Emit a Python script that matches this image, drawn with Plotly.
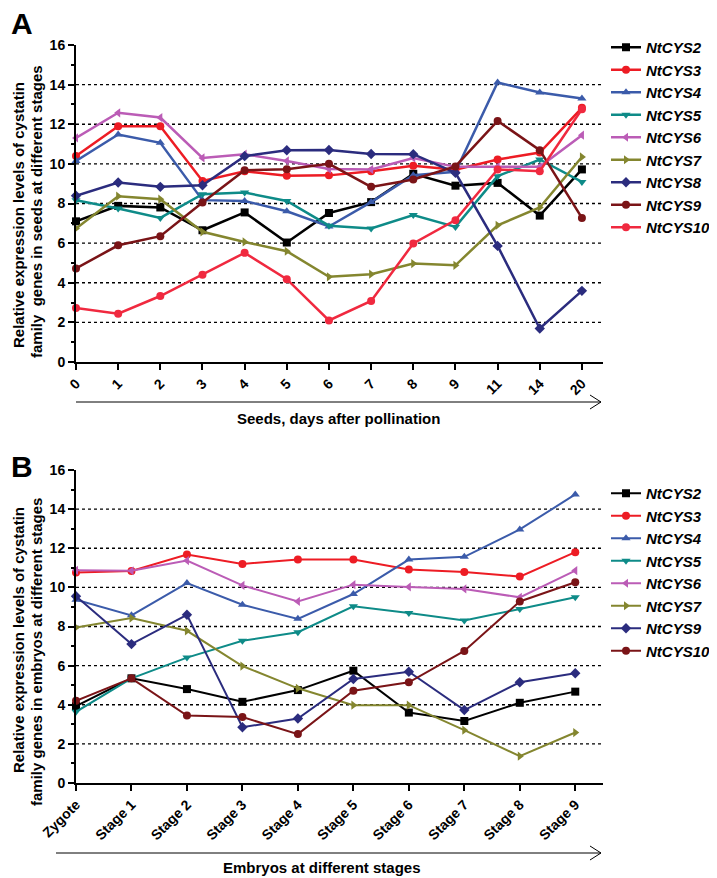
"""
Cystatin family expression in tobacco seeds (A) and embryos (B).
"""

import plotly.graph_objects as go

# the page body adds an 8px margin, so the figure is 8px smaller
OFF = 8
W, H = 717 - OFF, 878 - OFF

# Panel A: seeds, days after pollination
days = ["0", "1", "2", "3", "4", "5", "6", "7", "8", "9", "11", "14", "20"]
cys2_seed = [7.1, 7.88, 7.8, 6.65, 7.55, 6.03, 7.52, 8.07, 9.5, 8.9, 9.04, 7.39, 9.72]
cys3_seed = [10.4, 11.9, 11.9, 9.14, 9.63, 9.4, 9.42, 9.63, 9.9, 9.7, 10.22, 10.57, 12.83]
cys4_seed = [10.15, 11.48, 11.06, 8.17, 8.13, 7.61, 6.84, 8.07, 9.43, 9.6, 14.11, 13.6, 13.3]
cys5_seed = [8.17, 7.75, 7.27, 8.47, 8.55, 8.13, 6.88, 6.74, 7.42, 6.82, 9.38, 10.22, 9.09]
cys6_seed = [11.31, 12.58, 12.34, 10.3, 10.49, 10.15, 9.74, 9.72, 10.3, 9.85, 9.85, 9.85, 11.45]
cys7_seed = [6.74, 8.37, 8.22, 6.57, 6.06, 5.59, 4.3, 4.43, 4.97, 4.88, 6.9, 7.8, 10.35]
cys8_seed = [8.39, 9.06, 8.84, 8.92, 10.39, 10.69, 10.7, 10.5, 10.49, 9.55, 5.86, 1.69, 3.59]
cys9_seed = [4.72, 5.89, 6.35, 8.05, 9.68, 9.73, 10.0, 8.84, 9.21, 9.87, 12.17, 10.69, 7.27]
cys10_seed = [2.73, 2.44, 3.33, 4.41, 5.51, 4.18, 2.1, 3.08, 5.98, 7.16, 9.72, 9.63, 12.76]

# Panel B: embryos at different stages
stages = ["Zygote", "Stage 1", "Stage 2", "Stage 3", "Stage 4",
          "Stage 5", "Stage 6", "Stage 7", "Stage 8", "Stage 9"]
cys2_emb = [3.93, 5.35, 4.8, 4.15, 4.75, 5.74, 3.6, 3.17, 4.1, 4.67]
cys3_emb = [10.76, 10.84, 11.68, 11.2, 11.42, 11.42, 10.91, 10.79, 10.55, 11.8]
cys4_emb = [9.37, 8.57, 10.22, 9.11, 8.39, 9.66, 11.42, 11.56, 12.96, 14.75]
cys5_emb = [3.64, 5.35, 6.41, 7.27, 7.71, 9.03, 8.69, 8.31, 8.89, 9.49]
cys6_emb = [10.87, 10.85, 11.37, 10.1, 9.28, 10.14, 10.02, 9.92, 9.49, 10.86]
cys7_emb = [7.95, 8.43, 7.78, 5.98, 4.84, 3.98, 3.98, 2.7, 1.37, 2.58]
cys9_emb = [9.55, 7.1, 8.6, 2.85, 3.3, 5.32, 5.69, 3.73, 5.15, 5.61]
cys10_emb = [4.2, 5.35, 3.45, 3.37, 2.5, 4.72, 5.15, 6.75, 9.28, 10.26]

y_ticks = [0, 2, 4, 6, 8, 10, 12, 14, 16]
grid_vals = [2, 4, 6, 8, 10, 12, 14]

FONT = "Liberation Sans, Arial, sans-serif"

# name, values, colour, symbol
seed_series = [
    ("NtCYS2", cys2_seed, "#000000", "square"),
    ("NtCYS3", cys3_seed, "#ED1C24", "circle"),
    ("NtCYS4", cys4_seed, "#3B5BAA", "triangle-up"),
    ("NtCYS5", cys5_seed, "#0E8B88", "triangle-down"),
    ("NtCYS6", cys6_seed, "#BB5CB6", "triangle-left"),
    ("NtCYS7", cys7_seed, "#84862F", "triangle-right"),
    ("NtCYS8", cys8_seed, "#2B2C7E", "diamond"),
    ("NtCYS9", cys9_seed, "#7A1417", "circle"),
    ("NtCYS10", cys10_seed, "#F0293F", "circle"),
]
emb_series = [
    ("NtCYS2", cys2_emb, "#000000", "square"),
    ("NtCYS3", cys3_emb, "#ED1C24", "circle"),
    ("NtCYS4", cys4_emb, "#3B5BAA", "triangle-up"),
    ("NtCYS5", cys5_emb, "#0E8B88", "triangle-down"),
    ("NtCYS6", cys6_emb, "#BB5CB6", "triangle-left"),
    ("NtCYS7", cys7_emb, "#84862F", "triangle-right"),
    ("NtCYS9", cys9_emb, "#2B2C7E", "diamond"),
    ("NtCYS10", cys10_emb, "#7A1417", "circle"),
]


def px(x):
    # screen pixel -> paper fraction
    return (x - OFF) / W


def py(y):
    return 1 - (y - OFF) / H


fig = go.Figure()

for name, vals, col, sym in seed_series:
    fig.add_trace(go.Scatter(
        x=days, y=vals, name=name, mode="lines+markers",
        line=dict(color=col, width=2.5),
        marker=dict(color=col, symbol=sym, size=8),
        cliponaxis=False, xaxis="x", yaxis="y", legend="legend",
    ))

for name, vals, col, sym in emb_series:
    fig.add_trace(go.Scatter(
        x=stages, y=vals, name=name, mode="lines+markers",
        line=dict(color=col, width=2),
        marker=dict(color=col, symbol=sym, size=8),
        cliponaxis=False, xaxis="x2", yaxis="y2", legend="legend2",
    ))

axis_common = dict(
    showline=True, linecolor="black", linewidth=2,
    ticks="outside", ticklen=6, tickwidth=2, tickcolor="black",
    showgrid=False, zeroline=False, automargin=False,
)
tick_font = dict(size=14, family=FONT, weight="bold")
minor_ticks = dict(dtick=1, ticks="outside", ticklen=3,
                   tickwidth=2, tickcolor="black")
legend_font = dict(size=15, family=FONT, weight="bold", style="italic")

x_dom = [px(76), px(603)]
fig.update_layout(
    width=W, height=H,
    margin=dict(l=0, r=0, t=0, b=0),
    paper_bgcolor="white", plot_bgcolor="white",
    font=dict(family=FONT, color="black"),
    xaxis=dict(domain=x_dom, anchor="y", type="category",
               range=[0, 12.5], tickangle=-45, tickfont=tick_font,
               **axis_common),
    yaxis=dict(domain=[py(362), py(45)], anchor="x", range=[0, 16],
               tickvals=y_ticks, tickfont=tick_font, minor=minor_ticks,
               **axis_common),
    xaxis2=dict(domain=x_dom, anchor="y2", type="category",
                range=[0, 9.5], tickangle=-45, tickfont=tick_font,
                **axis_common),
    yaxis2=dict(domain=[py(783), py(470)], anchor="x2", range=[0, 16],
                tickvals=y_ticks, tickfont=tick_font, minor=minor_ticks,
                **axis_common),
    legend=dict(x=px(606), y=py(31), xanchor="left", yanchor="top",
                font=legend_font, bgcolor="rgba(0,0,0,0)",
                tracegroupgap=0, itemwidth=30),
    legend2=dict(x=px(606), y=py(477), xanchor="left", yanchor="top",
                 font=legend_font, bgcolor="rgba(0,0,0,0)",
                 tracegroupgap=0, itemwidth=30),
    showlegend=True,
)

# dotted horizontal gridlines (no line at 16)
shapes = []
for yr in ("y", "y2"):
    for g in grid_vals:
        shapes.append(dict(type="line", xref="paper", yref=yr,
                           x0=x_dom[0], x1=x_dom[1], y0=g, y1=g,
                           line=dict(color="black", width=1.3, dash="dot"),
                           layer="below"))

# arrows under the x tick labels
for x0, x1, y in ((76, 601, 402), (56, 601, 853)):
    shapes.append(dict(type="line", xref="paper", yref="paper",
                       x0=px(x0), x1=px(x1), y0=py(y), y1=py(y),
                       line=dict(color="black", width=1)))
    shapes.append(dict(type="path", xref="paper", yref="paper",
                       path="M %f %f L %f %f L %f %f" % (
                           px(x1 - 11), py(y - 7), px(x1), py(y),
                           px(x1 - 11), py(y + 7)),
                       line=dict(color="black", width=1)))
fig.update_layout(shapes=shapes)

annots = [
    dict(text="A", x=px(9), y=py(OFF - 3), xanchor="left", yanchor="top",
         font=dict(size=30, weight="bold")),
    dict(text="B", x=px(9), y=py(448), xanchor="left", yanchor="top",
         font=dict(size=30, weight="bold")),
    dict(text="Seeds, days after pollination", x=px(338), y=py(418),
         font=dict(size=15, weight="bold")),
    dict(text="Embryos at different stages", x=px(322), y=py(867),
         font=dict(size=15, weight="bold")),
    dict(text="Relative expression levels of cystatin", x=px(18), y=py(215),
         textangle=-90, font=dict(size=15, weight="bold")),
    dict(text="family  genes in seeds at different stages", x=px(36), y=py(212),
         textangle=-90, font=dict(size=15, weight="bold")),
    dict(text="Relative expression levels of cystatin", x=px(18), y=py(640),
         textangle=-90, font=dict(size=15, weight="bold")),
    dict(text="family genes in embryos at different stages", x=px(36), y=py(652),
         textangle=-90, font=dict(size=15, weight="bold")),
]
for a in annots:
    a.update(xref="paper", yref="paper", showarrow=False)
    if "xanchor" not in a:
        a["xanchor"] = "center"
    if "yanchor" not in a:
        a["yanchor"] = "middle"
fig.update_layout(annotations=annots)

fig.write_html("out.html")
